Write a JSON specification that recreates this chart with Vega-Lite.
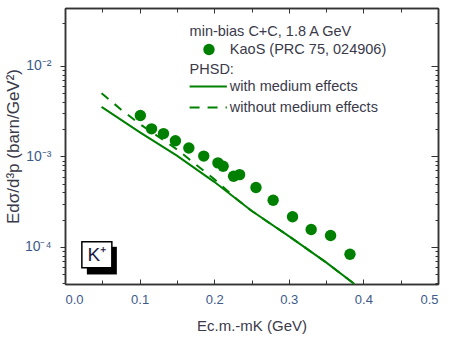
{
  "$schema": "https://vega.github.io/schema/vega-lite/v6.json",
  "width": 373,
  "height": 276,
  "autosize": {"type": "none"},
  "padding": {"left": 65, "top": 8, "right": 11, "bottom": 54},
  "background": "white",
  "config": {
    "view": {"stroke": null},
    "axis": {
      "grid": false,
      "domainColor": "#333333",
      "domainWidth": 1.5,
      "tickColor": "#333333",
      "tickWidth": 1,
      "labelFont": "Liberation Sans",
      "labelFontSize": 13,
      "labelColor": "#3d5a8a",
      "titleFont": "Liberation Sans",
      "titleFontSize": 15,
      "titleFontWeight": "normal",
      "titleColor": "#3a3a4a"
    }
  },
  "datasets": {
    "kaos": [
      {"x": 0.101, "y": 2.84e-3},
      {"x": 0.116, "y": 2.02e-3},
      {"x": 0.132, "y": 1.79e-3},
      {"x": 0.148, "y": 1.49e-3},
      {"x": 0.166, "y": 1.24e-3},
      {"x": 0.186, "y": 1.01e-3},
      {"x": 0.205, "y": 8.5e-4},
      {"x": 0.212, "y": 7.8e-4},
      {"x": 0.226, "y": 6.05e-4},
      {"x": 0.234, "y": 6.3e-4},
      {"x": 0.256, "y": 4.54e-4},
      {"x": 0.279, "y": 3.29e-4},
      {"x": 0.305, "y": 2.16e-4},
      {"x": 0.330, "y": 1.56e-4},
      {"x": 0.356, "y": 1.34e-4},
      {"x": 0.382, "y": 8.3e-5}
    ],
    "solid": [
      {"x": 0.049, "y": 3.53e-3},
      {"x": 0.10, "y": 1.86e-3},
      {"x": 0.15, "y": 1.02e-3},
      {"x": 0.20, "y": 5.25e-4},
      {"x": 0.25, "y": 2.51e-4},
      {"x": 0.30, "y": 1.32e-4},
      {"x": 0.35, "y": 6.76e-5},
      {"x": 0.388, "y": 3.9e-5}
    ],
    "dashed": [
      {"x": 0.049, "y": 5.0e-3},
      {"x": 0.075, "y": 3.31e-3},
      {"x": 0.10, "y": 2.29e-3},
      {"x": 0.15, "y": 1.2e-3},
      {"x": 0.20, "y": 5.62e-4},
      {"x": 0.23, "y": 3.39e-4},
      {"x": 0.25, "y": 2.51e-4},
      {"x": 0.30, "y": 1.32e-4},
      {"x": 0.35, "y": 6.76e-5},
      {"x": 0.388, "y": 3.9e-5}
    ],
    "shadow": [{"x": 0.0293, "x2": 0.0695, "y": 1.005e-4, "y2": 4.97e-5}],
    "box": [{"x": 0.0226, "x2": 0.0628, "y": 1.14e-4, "y2": 5.89e-5}],
    "ktext": [{"x": 0.0427, "y": 8.2e-5, "label": "K⁺"}],
    "legtext": [
      {"x": 0.167, "y": 0.0240, "label": "min-bias C+C, 1.8 A GeV"},
      {"x": 0.221, "y": 0.0152, "label": "KaoS (PRC 75, 024906)"},
      {"x": 0.167, "y": 0.00914, "label": "PHSD:"},
      {"x": 0.221, "y": 0.00593, "label": "with medium effects"},
      {"x": 0.221, "y": 0.00347, "label": "without medium effects"}
    ],
    "legpoint": [{"x": 0.193, "y": 0.0152}],
    "legsolid": [{"x": 0.167, "y": 0.00593}, {"x": 0.217, "y": 0.00593}],
    "legdash": [{"x": 0.167, "y": 0.00347}, {"x": 0.217, "y": 0.00347}]
  },
  "resolve": {"axis": {"x": "independent", "y": "independent"}},
  "layer": [
    {
      "data": {"name": "kaos"},
      "mark": {"type": "circle", "size": 130, "opacity": 1, "color": "#008000"},
      "encoding": {
        "x": {"field": "x", "type": "quantitative",
          "scale": {"domain": [0, 0.5], "nice": false, "zero": false},
          "axis": {"orient": "bottom", "values": [0, 0.1, 0.2, 0.3, 0.4, 0.5], "format": ".1f",
            "tickSize": -5, "labelPadding": 14, "title": "Ec.m.-mK (GeV)", "titlePadding": 12}},
        "y": {"field": "y", "type": "quantitative",
          "scale": {"type": "log", "domain": [3.9e-5, 0.0437], "nice": false},
          "axis": {"orient": "left", "values": [0.0001, 0.001, 0.01], "tickSize": 5, "labelPadding": 9,
            "labelFontSize": 14,
            "labelExpr": "datum.value < 0.0005 ? '10⁻⁴' : (datum.value < 0.005 ? '10⁻³' : '10⁻²')",
            "title": "Edσ/d³p (barn/GeV²)", "titleFontSize": 17, "titlePadding": 2}}
      }
    },
    {
      "data": {"name": "solid"},
      "mark": {"type": "line", "color": "#008000", "strokeWidth": 2},
      "encoding": {
        "x": {"field": "x", "type": "quantitative",
          "axis": {"orient": "bottom", "values": [0.05, 0.15, 0.25, 0.35, 0.45], "labels": false, "tickSize": -4, "title": null}},
        "y": {"field": "y", "type": "quantitative",
          "axis": {"orient": "left", "labels": false, "tickSize": 3, "title": null,
            "values": [4e-5, 5e-5, 6e-5, 7e-5, 8e-5, 9e-5, 2e-4, 3e-4, 4e-4, 5e-4, 6e-4, 7e-4, 8e-4, 9e-4, 2e-3, 3e-3, 4e-3, 5e-3, 6e-3, 7e-3, 8e-3, 9e-3, 3e-2]}}
      }
    },
    {
      "data": {"name": "dashed"},
      "mark": {"type": "line", "color": "#008000", "strokeWidth": 2, "strokeDash": [9, 8]},
      "encoding": {
        "x": {"field": "x", "type": "quantitative",
          "axis": {"orient": "top", "values": [0, 0.1, 0.2, 0.3, 0.4, 0.5], "labels": false, "tickSize": -5, "title": null}},
        "y": {"field": "y", "type": "quantitative",
          "axis": {"orient": "right", "values": [0.0001, 0.001, 0.01], "labels": false, "tickSize": -7, "title": null}}
      }
    },
    {
      "data": {"name": "shadow"},
      "mark": {"type": "rect", "color": "black"},
      "encoding": {
        "x": {"field": "x", "type": "quantitative",
          "axis": {"orient": "top", "values": [0.05, 0.15, 0.25, 0.35, 0.45], "labels": false, "tickSize": -4, "title": null}},
        "x2": {"field": "x2"},
        "y": {"field": "y", "type": "quantitative",
          "axis": {"orient": "right", "labels": false, "tickSize": -3, "title": null,
            "values": [4e-5, 5e-5, 6e-5, 7e-5, 8e-5, 9e-5, 2e-4, 3e-4, 4e-4, 5e-4, 6e-4, 7e-4, 8e-4, 9e-4, 2e-3, 3e-3, 4e-3, 5e-3, 6e-3, 7e-3, 8e-3, 9e-3, 3e-2]}},
        "y2": {"field": "y2"}
      }
    },
    {
      "data": {"name": "box"},
      "mark": {"type": "rect", "fill": "white", "stroke": "black", "strokeWidth": 1.5},
      "encoding": {
        "x": {"field": "x", "type": "quantitative", "axis": null},
        "x2": {"field": "x2"},
        "y": {"field": "y", "type": "quantitative", "axis": null},
        "y2": {"field": "y2"}
      }
    },
    {
      "data": {"name": "ktext"},
      "mark": {"type": "text", "font": "Liberation Sans", "fontSize": 19, "color": "#1a1a40", "align": "center", "baseline": "middle"},
      "encoding": {
        "x": {"field": "x", "type": "quantitative", "axis": null},
        "y": {"field": "y", "type": "quantitative", "axis": null},
        "text": {"field": "label"}
      }
    },
    {
      "data": {"name": "legtext"},
      "mark": {"type": "text", "font": "Liberation Sans", "fontSize": 14.5, "color": "#3a3a4a", "align": "left", "baseline": "middle"},
      "encoding": {
        "x": {"field": "x", "type": "quantitative", "axis": null},
        "y": {"field": "y", "type": "quantitative", "axis": null},
        "text": {"field": "label"}
      }
    },
    {
      "data": {"name": "legpoint"},
      "mark": {"type": "circle", "size": 130, "opacity": 1, "color": "#008000"},
      "encoding": {
        "x": {"field": "x", "type": "quantitative", "axis": null},
        "y": {"field": "y", "type": "quantitative", "axis": null}
      }
    },
    {
      "data": {"name": "legsolid"},
      "mark": {"type": "line", "color": "#008000", "strokeWidth": 2},
      "encoding": {
        "x": {"field": "x", "type": "quantitative", "axis": null},
        "y": {"field": "y", "type": "quantitative", "axis": null}
      }
    },
    {
      "data": {"name": "legdash"},
      "mark": {"type": "line", "color": "#008000", "strokeWidth": 2, "strokeDash": [10, 8]},
      "encoding": {
        "x": {"field": "x", "type": "quantitative", "axis": null},
        "y": {"field": "y", "type": "quantitative", "axis": null}
      }
    }
  ]
}
